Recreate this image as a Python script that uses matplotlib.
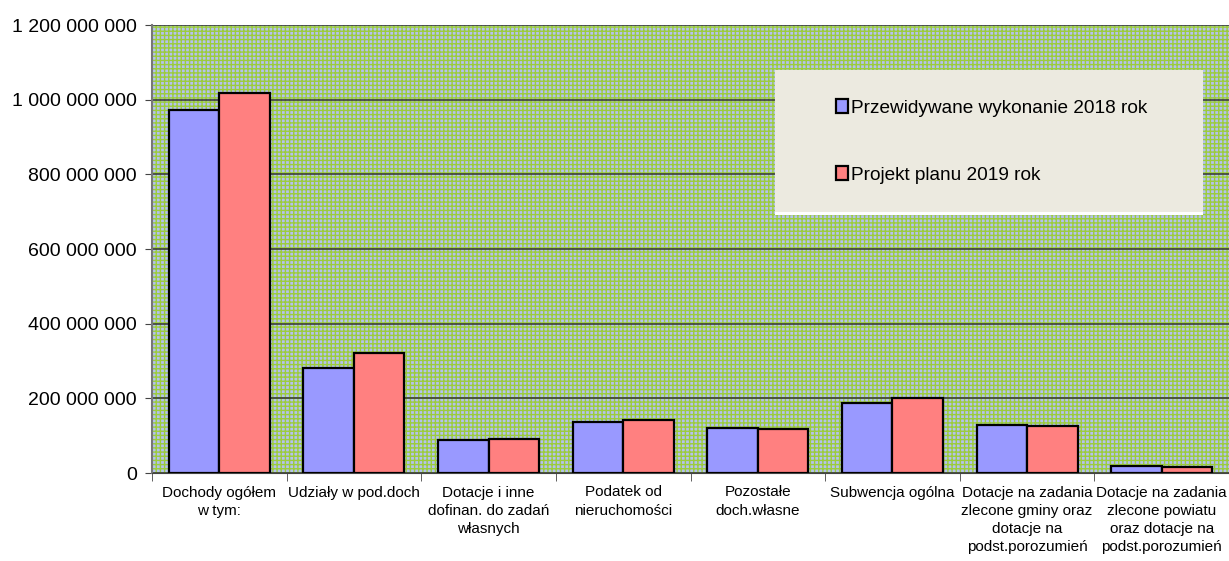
import numpy as np
import matplotlib
matplotlib.use('Agg')
import matplotlib.pyplot as plt
from matplotlib.patches import Rectangle
from matplotlib.ticker import FuncFormatter

plt.rcParams['font.family'] = ['Liberation Sans', 'DejaVu Sans']

kategorie = ['Dochody ogółem\nw tym:', 'Udziały w pod.doch', 'Dotacje i inne\ndofinan. do zadań\nwłasnych',
             'Podatek od\nnieruchomości', 'Pozostałe\ndoch.własne', 'Subwencja ogólna',
             'Dotacje na zadania\nzlecone gminy oraz\ndotacje na\npodst.porozumień',
             'Dotacje na zadania\nzlecone powiatu\noraz dotacje na\npodst.porozumień']
wyk_2018 = [972e6, 281e6, 88e6, 137e6, 121e6, 188e6, 129e6, 19e6]
plan_2019 = [1018e6, 321e6, 91e6, 142e6, 118e6, 201e6, 126e6, 16e6]
etykiety = ['Przewidywane wykonanie 2018 rok', 'Projekt planu 2019 rok']

fig = plt.figure(figsize=(12.29, 5.61), dpi=100)
ax = fig.add_axes([152/1229, 1-473/561, 1-152/1229, 448/561])

# tlo w kratke
ax.add_patch(Rectangle((0, 0), 1, 1, transform=ax.transAxes, facecolor='#b4c2ee',
                       edgecolor='#9ccc3c', hatch='++++', lw=0, zorder=0))

x = np.arange(len(kategorie))
w = 0.375
ax.bar(x - w/2, wyk_2018, w, color='#9999ff', edgecolor='black', lw=1.6, label=etykiety[0], zorder=3)
ax.bar(x + w/2, plan_2019, w, color='#ff8080', edgecolor='black', lw=1.6, label=etykiety[1], zorder=3)

ax.set_xlim(-0.5, len(kategorie) - 0.5)
ax.set_ylim(0, 1.2e9)
ax.set_yticks(np.arange(0, 1.2e9 + 1, 2e8))
ax.yaxis.set_major_formatter(FuncFormatter(lambda v, p: f'{int(v):,}'.replace(',', ' ')))
ax.grid(axis='y', color='#333333', lw=1.1, zorder=1)
ax.set_axisbelow(True)

ax.set_xticks(x)
ax.set_xticklabels(kategorie, fontsize=11, linespacing=1.38)
ax.set_xticks(np.arange(-0.5, len(kategorie)), minor=True)
ax.tick_params(axis='x', which='major', length=0, pad=9)
ax.tick_params(axis='x', which='minor', length=6, color='#444444')
ax.tick_params(axis='y', labelsize=14, length=5, color='#444444', pad=6)

for s in ['top', 'right']:
    ax.spines[s].set_visible(False)
ax.spines['left'].set_color('#777777')
ax.spines['left'].set_linewidth(1.5)
ax.spines['bottom'].set_color('#444444')

# tlo legendy
ax.add_patch(Rectangle((0.5785, 0.575), 0.3974, 0.01, transform=ax.transAxes,
                       facecolor='white', lw=0, zorder=4))
ax.add_patch(Rectangle((0.5785, 0.5826), 0.3974, 0.317, transform=ax.transAxes,
                       facecolor='#eceae0', lw=0, zorder=4))
leg = ax.legend(loc='center left', bbox_to_anchor=(0.6265, 0.74), frameon=False, fontsize=13.7,
                handlelength=0.6, handleheight=0.75, handletextpad=0.2, labelspacing=2.6, borderpad=0)
leg.set_zorder(5)

fig.savefig('out.png', dpi=100)
